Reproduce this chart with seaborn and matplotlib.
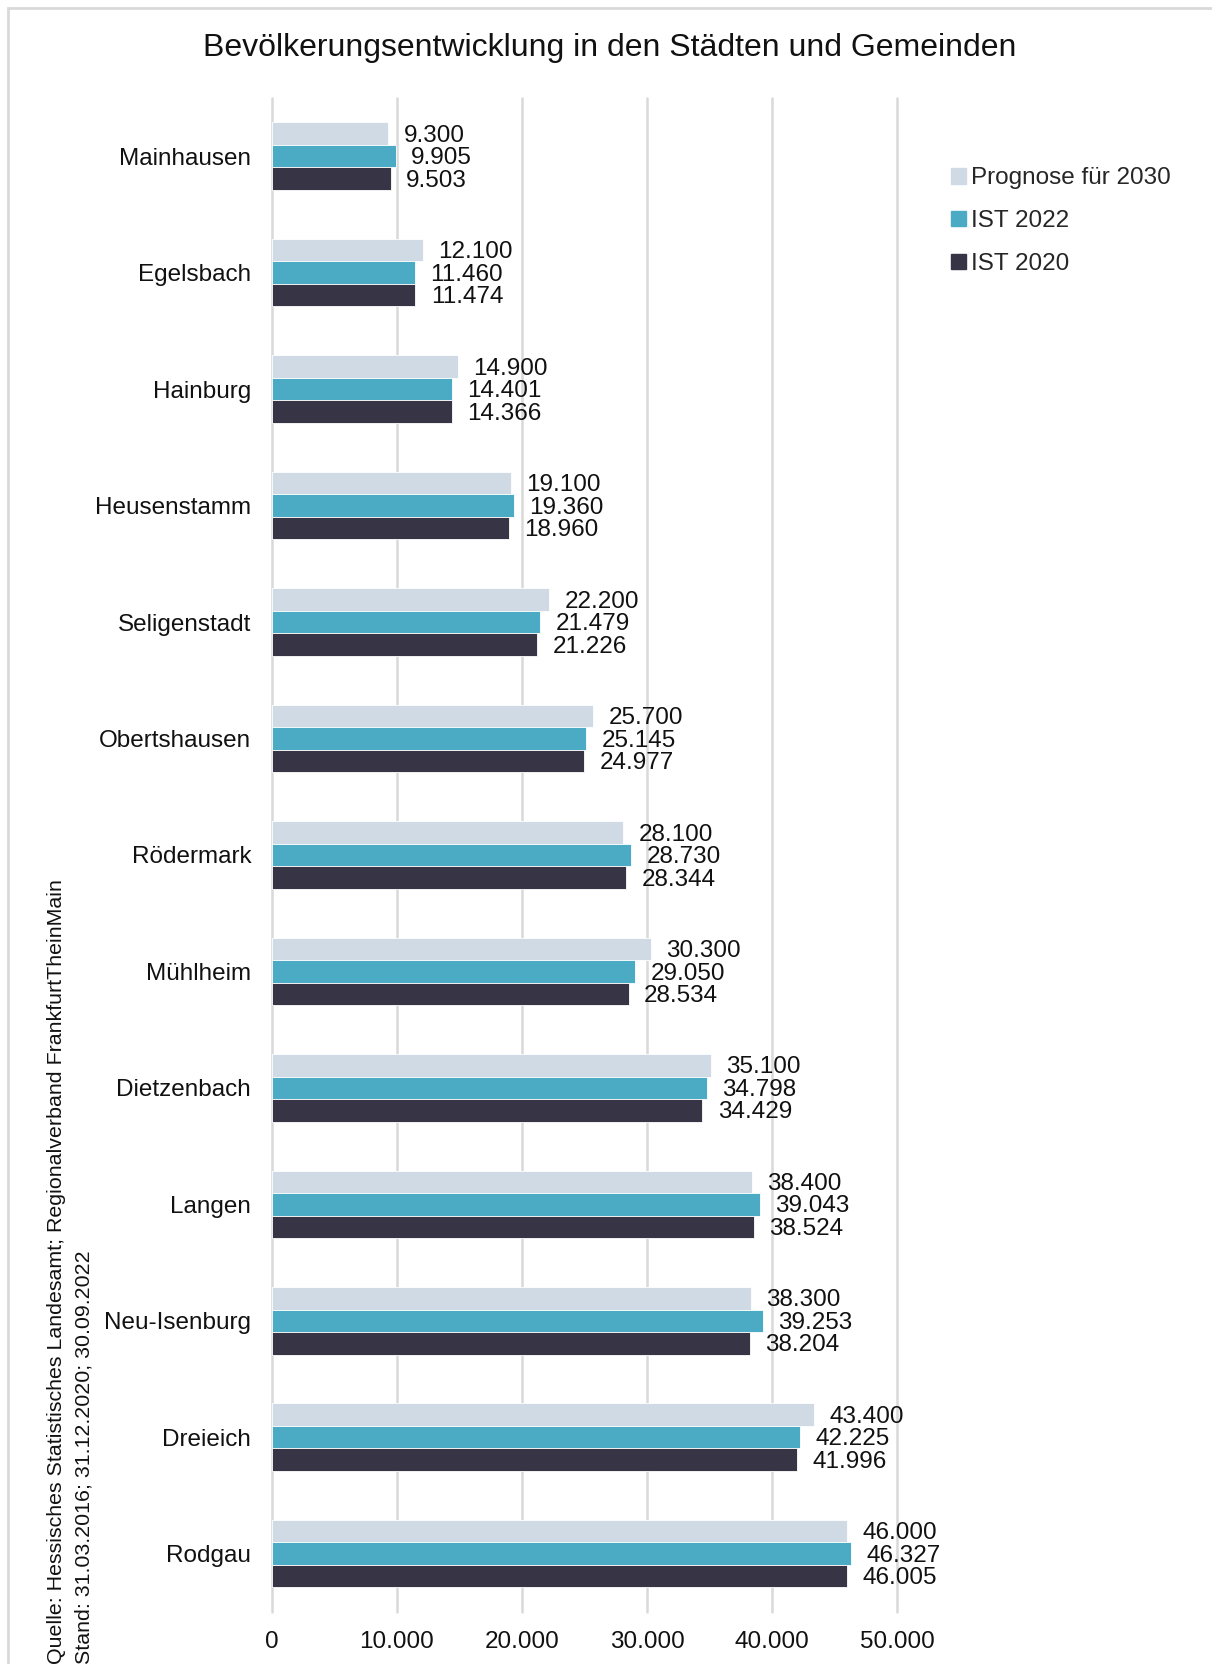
import matplotlib

matplotlib.use("Agg", force=True)
import matplotlib.pyplot as plt
from matplotlib.patches import Rectangle
import pandas as pd
import seaborn as sns

cities = [
    "Mainhausen", "Egelsbach", "Hainburg", "Heusenstamm", "Seligenstadt",
    "Obertshausen", "Rödermark", "Mühlheim", "Dietzenbach", "Langen",
    "Neu-Isenburg", "Dreieich", "Rodgau",
]
series = ["Prognose für 2030", "IST 2022", "IST 2020"]
prognose_2030 = [9300, 12100, 14900, 19100, 22200, 25700, 28100, 30300, 35100, 38400, 38300, 43400, 46000]
ist_2022 = [9905, 11460, 14401, 19360, 21479, 25145, 28730, 29050, 34798, 39043, 39253, 42225, 46327]
ist_2020 = [9503, 11474, 14366, 18960, 21226, 24977, 28344, 28534, 34429, 38524, 38204, 41996, 46005]
colors = ["#cfdae5", "#4babc4", "#373445"]
x_ticks = [0, 10000, 20000, 30000, 40000, 50000]


def de_format(v: float) -> str:
    return f"{v:,.0f}".replace(",", ".")


def main() -> None:
    sns.set_style("white")
    plt.rcParams["font.family"] = ["Liberation Sans", "DejaVu Sans"]

    df = pd.DataFrame({"Stadt": cities, series[0]: prognose_2030, series[1]: ist_2022, series[2]: ist_2020})
    long = df.melt(id_vars="Stadt", var_name="Reihe", value_name="Einwohner")

    fig = plt.figure(figsize=(12.12, 16.64), dpi=100)
    ax = fig.add_axes([0.2244, 0.0313, 0.5157, 0.9098])
    sns.barplot(
        data=long, y="Stadt", x="Einwohner", hue="Reihe", order=cities, hue_order=series,
        palette=colors, saturation=1, width=0.58, orient="h", ax=ax, edgecolor="white",
        linewidth=0.6, legend=False,
    )

    for container in ax.containers:
        for bar in container:
            w = bar.get_width()
            ax.annotate(
                de_format(w), xy=(w, bar.get_y() + bar.get_height() / 2), xytext=(11, -1.5),
                textcoords="offset points", ha="left", va="center", fontsize=17.5,
                color="#111111", clip_on=False,
            )

    ax.set_xlim(0, 50000)
    ax.set_ylim(12.5, -0.5)
    ax.set_xticks(x_ticks)
    ax.set_xticklabels([de_format(t) for t in x_ticks])
    ax.xaxis.grid(True, color="#d9d9d9", linewidth=1.8)
    for gl in ax.get_xgridlines():
        gl.set_clip_on(False)
    ax.set_axisbelow(True)
    for s in ax.spines.values():
        s.set_visible(False)
    ax.tick_params(axis="x", length=0, labelsize=17.5, pad=14, colors="#111111")
    ax.tick_params(axis="y", length=0, labelsize=17.5, pad=15, colors="#111111")
    ax.set_xlabel("")
    ax.set_ylabel("")

    # legend
    handles = [Rectangle((0, 0), 1, 1, color=c) for c in colors]
    fig.legend(
        handles, series, loc="upper left", bbox_to_anchor=(0.767, 0.9125), frameon=False,
        fontsize=17.5, handlelength=0.6, handleheight=0.6, handletextpad=0.2, labelspacing=0.85,
    )

    fig.text(0.503, 0.971, "Bevölkerungsentwicklung in den Städten und Gemeinden",
             ha="center", va="center", fontsize=23, color="#111111")

    fig.text(0.047, 0.0, "Quelle: Hessisches Statistisches Landesamt; Regionalverband FrankfurtTheinMain",
             rotation=90, ha="center", va="bottom", fontsize=15.4, color="#111111")
    fig.text(0.069, 0.0, "Stand: 31.03.2016; 31.12.2020; 30.09.2022",
             rotation=90, ha="center", va="bottom", fontsize=15.4, color="#111111")

    # outer frame (top and left edge visible)
    fig.patches.append(Rectangle((8 / 1212, -0.05), 1.1, 0.05 + 1 - 8 / 1664, transform=fig.transFigure,
                                 fill=False, edgecolor="#d9d9d9", linewidth=2))

    fig.savefig("out.png", dpi=100)
    plt.close(fig)


if __name__ == "__main__":
    main()
